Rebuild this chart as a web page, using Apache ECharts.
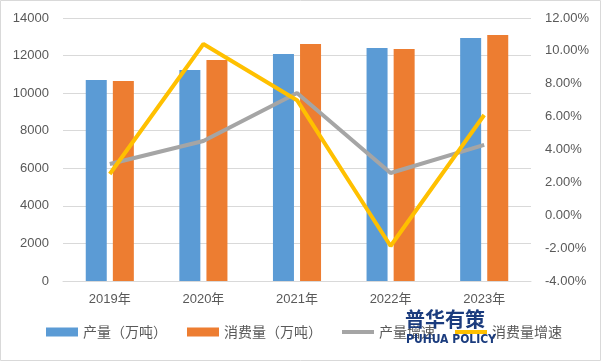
<!DOCTYPE html>
<html><head><meta charset="utf-8">
<script src="https://cdn.jsdelivr.net/npm/echarts@6/dist/echarts.min.js"></script>
<style>html,body{margin:0;padding:0;background:#fff}#c{width:601px;height:361px}</style>
</head><body><div id="c"></div>
<script>
var categories = ['2019年','2020年','2021年','2022年','2023年'];
var production = [10700, 11230, 12080, 12400, 12930];
var consumption = [10650, 11760, 12610, 12350, 13090];
var productionGrowth = [3.12, 4.52, 7.44, 2.57, 4.28];
var consumptionGrowth = [2.51, 10.42, 7.0, -1.87, 6.1];
var seriesNames = ['产量（万吨）','消费量（万吨）','产量增速','消费量增速'];

var font = '"Liberation Sans","Noto Sans CJK SC",sans-serif';
var chart = echarts.init(document.getElementById('c'));
var lineIcon = 'path://M0,0L32,0L32,4L0,4Z';
chart.setOption({
  animation: false,
  textStyle: {fontFamily: font},
  grid: {left: 63, right: 70, top: 18, bottom: 80, containLabel: false},
  legend: {
    bottom: 17, left: 41, itemWidth: 32, itemHeight: 9, itemGap: 20, itemTextGap: 4,
    textStyle: {color: '#595959', fontSize: 14, fontFamily: '"Noto Sans CJK SC",sans-serif'},
    data: [
      {name: seriesNames[0], icon: 'rect'},
      {name: seriesNames[1], icon: 'rect'},
      {name: seriesNames[2], icon: lineIcon},
      {name: seriesNames[3], icon: lineIcon}
    ]
  },
  xAxis: {
    type: 'category', data: categories,
    axisLine: {lineStyle: {color: '#D9D9D9', width: 1}},
    axisTick: {show: false},
    axisLabel: {color: '#595959', fontSize: 13, margin: 12, fontFamily: font}
  },
  yAxis: [{
    type: 'value', min: 0, max: 14000, interval: 2000,
    axisLine: {show: false}, axisTick: {show: false},
    axisLabel: {color: '#595959', fontSize: 13, margin: 14, formatter: function(v){return String(v);}},
    splitLine: {lineStyle: {color: '#D9D9D9', width: 1}}
  }, {
    type: 'value', min: -4, max: 12, interval: 2, position: 'right',
    axisLine: {show: false}, axisTick: {show: false},
    axisLabel: {color: '#595959', fontSize: 13, margin: 14, formatter: function(v){return v.toFixed(2)+'%';}},
    splitLine: {show: false}
  }],
  series: [
    {name: seriesNames[0], type: 'bar', data: production, barWidth: 21, barGap: '29%', itemStyle: {color: '#5B9BD5'}},
    {name: seriesNames[1], type: 'bar', data: consumption, barWidth: 21, itemStyle: {color: '#ED7D31'}},
    {name: seriesNames[2], type: 'line', yAxisIndex: 1, data: productionGrowth, symbol: 'none',
     lineStyle: {color: '#A5A5A5', width: 4}, itemStyle: {color: '#A5A5A5'}},
    {name: seriesNames[3], type: 'line', yAxisIndex: 1, data: consumptionGrowth, symbol: 'none',
     lineStyle: {color: '#FFC000', width: 4}, itemStyle: {color: '#FFC000'}}
  ],
  graphic: [
    {type: 'rect', shape: {x: 0.5, y: 0.5, width: 600, height: 360}, style: {fill: 'none', stroke: '#D9D9D9', lineWidth: 1}, silent: true},
    {type: 'text', left: 405, top: 309, z: 100, style: {text: '普华有策', fill: '#1B3C7E', font: 'bold 20px "Noto Sans CJK SC",sans-serif'}},
    {type: 'text', left: 406, top: 334, z: 100, style: {text: 'PUHUA POLICY', fill: '#1B3C7E', font: 'bold 12px "Liberation Sans Narrow","DejaVu Sans Condensed",sans-serif'}}
  ]
});
</script></body></html>
